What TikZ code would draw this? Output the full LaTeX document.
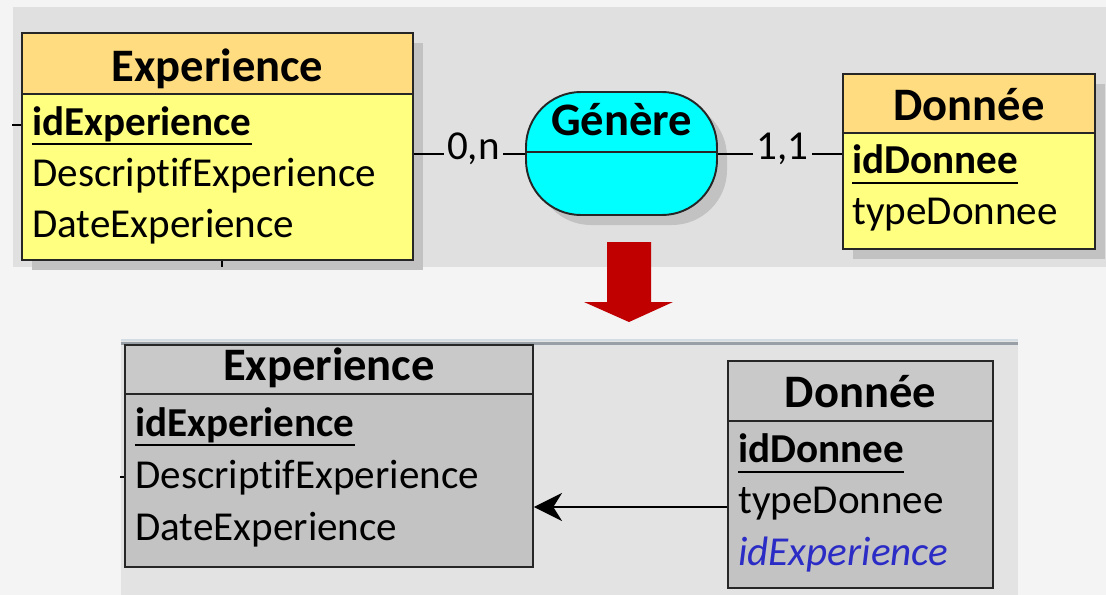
\documentclass[tikz,border=0pt]{standalone}
\usepackage{fontspec}
\setmainfont{Carlito}[Ligatures=NoCommon]
\usetikzlibrary{arrows.meta, calc, fit, positioning, shadows}
\definecolor{fond}{HTML}{F4F4F4}
\definecolor{panhaut}{HTML}{E0E0E0}
\definecolor{panbas}{HTML}{E3E3E3}
\definecolor{panlisere}{HTML}{D3DBE3}
\definecolor{panbord}{HTML}{989FA6}
\definecolor{enteteMCD}{HTML}{FFDC80}
\definecolor{corpsMCD}{HTML}{FFFF80}
\definecolor{assocMCD}{HTML}{00FFFF}
\definecolor{ombre}{HTML}{C2C2C2}
\definecolor{enteteMLD}{HTML}{C9C9C9}
\definecolor{corpsMLD}{HTML}{C3C3C3}
\definecolor{cleetr}{HTML}{2B2BC6}
\definecolor{flecherouge}{HTML}{C00000}
\tikzset{
  every picture/.style={line join=miter},
  entite/.style={draw=black!85, line width=1.1pt, inner sep=0pt},
  ombree/.style={drop shadow={shadow xshift=0.2cm, shadow yshift=-0.2cm, fill=ombre, opacity=1}},
  % textes des tables
  titre/.style={font=\fontsize{26.5}{30}\selectfont\bfseries, anchor=base, inner sep=0pt},
  champ/.style={font=\fontsize{23.4}{28}\selectfont, anchor=base west, inner sep=0pt},
  cle/.style={champ, font=\fontsize{23.4}{28}\selectfont\bfseries},
  etrangere/.style={champ, font=\fontsize{23.4}{28}\selectfont\itshape, text=cleetr},
  souligne/.style={line width=1pt},
  % liens
  lien/.style={line width=0.9pt},
  card/.style={font=\fontsize{23.4}{28}\selectfont, fill=panhaut, inner xsep=2pt, inner ysep=0pt, text height=0.63em, text depth=0pt},
}

\begin{document}
\begin{tikzpicture}[x=0.02cm, y=-0.02cm]
  \useasboundingbox (0,0) rectangle (1106,595);
  \fill[fond] (0,0) rectangle (1106,595);

  % MCD
  \fill[panhaut] (13,7) rectangle (1106,267);
  \node[entite, ombree, fill=corpsMCD, fit={(22,33) (413,260)}] (expA) {};
  \node[entite, fill=enteteMCD, fit={(22,33) (413,94)}] (expAh) {};
  \node[titre] (expAt) at (expAh.center |- 0,81) {Experience};
  \node[cle] (expAid) at (32,135) {idExperience};
  \node[champ] (expAdesc) at (32,186) {DescriptifExperience};
  \node[champ] (expAdate) at (32,237) {DateExperience};
  \draw[souligne] (expAid.west |- 0,144) -- (expAid.east |- 0,144);

  \node[entite, ombree, fill=corpsMCD, fit={(843,74) (1095,249)}] (donA) {};
  \node[entite, fill=enteteMCD, fit={(843,74) (1095,133)}] (donAh) {};
  \node[titre] (donAt) at (donAh.center |- 0,120) {Donnée};
  \node[cle] (donAid) at (852,173) {idDonnee};
  \node[champ] (donAtype) at (852,224) {typeDonnee};
  \draw[souligne] (donAid.west |- 0,183) -- (donAid.east |- 0,183);

  \node[entite, ombree, fill=assocMCD, rounded corners=1.1cm, fit={(526,92) (717,215)}] (genere) {};
  \node[titre] (genereT) at (genere.center |- 0,135) {Génère};
  \draw[entite] (genere.west |- 0,152) -- (genere.east |- 0,152);

  \draw[lien] (expA.east |- 0,154) -- node[card, pos=0.535] (cardA) {0,n} (genere.west |- 0,154);
  \draw[lien] (genere.east |- 0,154) -- node[card, pos=0.52] (cardB) {1,1} (donA.west |- 0,154);
  \draw[lien] (expA.west |- 0,125) -- ++(-9,0);
  \draw[lien] (expA.south -| 222,0) -- (222,267);

  % passage au MLD
  \fill[flecherouge] (607,242) -- (651,242) -- (651,302) -- (673,302) -- (629,322) -- (584,302) -- (607,302) -- cycle;

  % MLD
  \fill[panbas] (121,339) rectangle (1018,595);
  \draw[panlisere, line width=1.2pt] (121,340) -- (1018,340);
  \draw[panbord, line width=1.2pt] (121,343.5) -- (1018,343.5);

  \node[entite, fill=corpsMLD, fit={(125,345) (533,567)}] (expB) {};
  \node[entite, fill=enteteMLD, fit={(125,345) (533,394)}] (expBh) {};
  \node[titre] (expBt) at (expBh.center |- 0,380) {Experience};
  \node[cle] (expBid) at (135,436) {idExperience};
  \node[champ] (expBdesc) at (135,488) {DescriptifExperience};
  \node[champ] (expBdate) at (135,540) {DateExperience};
  \draw[souligne] (expBid.west |- 0,445) -- (expBid.east |- 0,445);

  \node[entite, fill=corpsMLD, fit={(728,361) (993,588)}] (donB) {};
  \node[entite, fill=enteteMLD, fit={(728,361) (993,421)}] (donBh) {};
  \node[titre] (donBt) at (donBh.center |- 0,407) {Donnée};
  \node[cle] (donBid) at (738,462) {idDonnee};
  \node[champ] (donBtype) at (738,513) {typeDonnee};
  \node[etrangere] (donBfk) at (738,565) {idExperience};
  \draw[souligne] (donBid.west |- 0,472) -- (donBid.east |- 0,472);

  \draw[lien, -{Stealth[length=16pt, width=16pt, inset=5pt]}] (donB.west |- 0,507) -- (expB.east |- 0,507);
  \draw[lien] (expB.west |- 0,477) -- ++(-4,0);
\end{tikzpicture}
\end{document}
